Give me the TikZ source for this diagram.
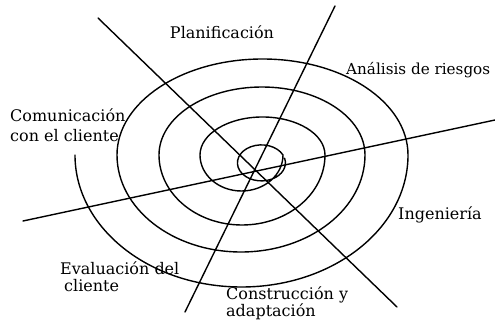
\documentclass[tikz,border=0pt]{standalone}
\usepackage{fontspec}
\setmainfont{DejaVu Serif}
\begin{document}
\begin{tikzpicture}[x=1pt,y=1pt,
  lbl/.style={font=\fontsize{16}{17}\selectfont, inner sep=0pt, align=left},
  ln/.style={line width=1.4pt, line cap=round, black}]
\useasboundingbox (0,0) rectangle (495,321);
% spiral
\draw[ln] (75,166)
  arc[start angle=180,end angle=360,x radius=166.5,y radius=132]
  arc[start angle=0,end angle=180,x radius=145.5,y radius=96]
  arc[start angle=180,end angle=360,x radius=124,y radius=97]
  arc[start angle=0,end angle=180,x radius=103,y radius=68]
  arc[start angle=180,end angle=360,x radius=83,y radius=70]
  arc[start angle=0,end angle=180,x radius=62.5,y radius=38]
  arc[start angle=180,end angle=360,x radius=41.5,y radius=36]
  arc[start angle=26,end angle=375,x radius=24,y radius=18];
% radial lines
\coordinate (a1) at (98,303);  \coordinate (a2) at (397,14);
\coordinate (b1) at (335,315); \coordinate (b2) at (185,9);
\coordinate (c1) at (23,100);  \coordinate (c2) at (495,201);
\draw[ln] (a1) -- (a2);
\draw[ln] (b1) -- (b2);
\draw[ln] (c1) -- (c2);
% labels
\node[lbl] (plan) at (222,289) {Planificación};
\node[lbl,anchor=west,font=\fontsize{15.2}{17}\selectfont] (anal) at (346,251) {Análisis de riesgos};
\node[lbl,anchor=north west,font=\fontsize{16}{20}\selectfont] (com) at (10,212) {Comunicación\\con el cliente};
\node[lbl,anchor=west] (ing) at (398,106) {Ingeniería};
\node[lbl,anchor=north west] (eval) at (60,59) {Evaluación del\\\hspace{4pt}cliente};
\node[lbl,anchor=north west] (cons) at (226,34) {Construcción y\\adaptación};
\end{tikzpicture}
\end{document}
